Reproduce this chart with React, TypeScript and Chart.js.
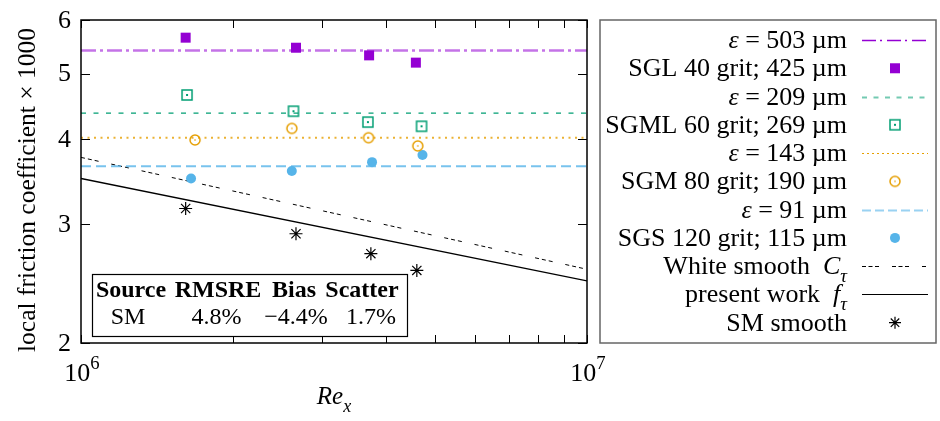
import React, { useEffect, useRef } from "react";
import { Chart, registerables } from "chart.js";
Chart.register(...registerables);

const FONT = '"Liberation Serif", "Times New Roman", serif';

// ---- axes ----
const xRange = [1e6, 1e7];
const yRange = [2, 6];
const yTicks = [2, 3, 4, 5, 6];
const xMajorTicks = [1e6, 1e7];
const xMinorTicks = [2e6, 3e6, 4e6, 5e6, 6e6, 7e6, 8e6, 9e6];
const xTickExponents = ["6", "7"];

// ---- data ----
// horizontal roughness levels: eps = 503, 209, 143, 91 um
const roughnessLevels = [5.41, 4.37, 4.02, 3.65];

const sglRe = [1.61e6, 2.66e6, 3.71e6, 4.59e6];
const sglCf = [5.65, 5.46, 5.32, 5.19];

const sgmlRe = [1.62e6, 2.63e6, 3.69e6, 4.71e6];
const sgmlCf = [4.65, 4.4, 4.24, 4.18];

const sgmRe = [1.68e6, 2.61e6, 3.7e6, 4.63e6];
const sgmCf = [3.99, 4.15, 4.02, 3.91];

const sgsRe = [1.65e6, 2.61e6, 3.76e6, 4.73e6];
const sgsCf = [3.5, 3.59, 3.7, 3.79];

const whiteRe = [1e6, 1e7];
const whiteCf = [3.76, 2.57];

const presentRe = [1e6, 1e7];
const presentCf = [3.5, 2.47];

const smRe = [1.61e6, 2.66e6, 3.74e6, 4.61e6];
const smCf = [3.16, 2.9, 2.71, 2.56];

const legendLabels = [
  "$ε$ = 503 µm",
  "SGL 40 grit; 425 µm",
  "$ε$ = 209 µm",
  "SGML 60 grit; 269 µm",
  "$ε$ = 143 µm",
  "SGM 80 grit; 190 µm",
  "$ε$ = 91 µm",
  "SGS 120 grit; 115 µm",
  "White smooth  $C$_τ",
  "present work  $f$_τ",
  "SM smooth",
];

const tableHeader = ["Source", "RMSRE", "Bias", "Scatter"];
const tableRow = ["SM", "4.8%", "−4.4%", "1.7%"];

const yTitle = "local friction coefficient × 1000";

// ---- styles ----
const PURPLE = "#9400D3";
const GREEN = "#009E73";
const ORANGE = "#E69F00";
const BLUE = "#56B4E9";

function makeMarker(kind: string, color: string) {
  const c = document.createElement("canvas");
  c.width = 14;
  c.height = 14;
  const g = c.getContext("2d")!;
  g.strokeStyle = color;
  g.fillStyle = color;
  g.lineWidth = 1.5;
  if (kind === "sq") {
    g.strokeRect(2, 2, 10, 10);
    g.fillRect(6, 6, 2, 2);
  } else {
    g.beginPath();
    g.arc(7, 7, 5, 0, Math.PI * 2);
    g.stroke();
    g.fillRect(6.3, 6.3, 1.4, 1.4);
  }
  return c;
}

const zip = (xs: number[], ys: number[]) => xs.map((x, i) => ({ x, y: ys[i] }));
const hline = (v: number) => [
  { x: xRange[0], y: v },
  { x: xRange[1], y: v },
];

type Seg = { t: string; italic?: boolean; bold?: boolean; sub?: boolean; sup?: boolean };

function parseLabel(s: string): Seg[] {
  const segs: Seg[] = [];
  let buf = "";
  let i = 0;
  const flush = () => {
    if (buf) segs.push({ t: buf });
    buf = "";
  };
  while (i < s.length) {
    const c = s[i];
    if (c === "$") {
      flush();
      const j = s.indexOf("$", i + 1);
      segs.push({ t: s.slice(i + 1, j), italic: true });
      i = j + 1;
    } else if (c === "_") {
      flush();
      segs.push({ t: s[i + 1], italic: true, sub: true });
      i += 2;
    } else {
      buf += c;
      i++;
    }
  }
  flush();
  return segs;
}

function drawRich(
  ctx: CanvasRenderingContext2D,
  segs: Seg[],
  x: number,
  y: number,
  align: "left" | "right" | "center",
  size: number
) {
  const parts = segs.map((s) => {
    const fs = s.sub || s.sup ? size * 0.72 : size;
    const font = `${s.italic ? "italic " : ""}${s.bold ? "bold " : ""}${fs}px ${FONT}`;
    ctx.font = font;
    return { ...s, font, w: ctx.measureText(s.t).width, dy: s.sub ? size * 0.3 : s.sup ? -size * 0.45 : 0 };
  });
  const total = parts.reduce((a, p) => a + p.w, 0);
  let cx = align === "right" ? x - total : align === "center" ? x - total / 2 : x;
  ctx.textAlign = "left";
  ctx.textBaseline = "alphabetic";
  parts.forEach((p) => {
    ctx.font = p.font;
    ctx.fillText(p.t, cx, y + p.dy);
    cx += p.w;
  });
}

type LegendStyle =
  | { kind: "line"; color: string; width: number; dash: number[] }
  | { kind: "marker"; draw: (ctx: CanvasRenderingContext2D, x: number, y: number) => void };

const legendStyles: LegendStyle[] = [
  { kind: "line", color: PURPLE, width: 1.3, dash: [14, 4, 2, 5] },
  {
    kind: "marker",
    draw: (c, x, y) => {
      c.fillStyle = PURPLE;
      c.fillRect(x - 5, y - 5, 10, 10);
    },
  },
  { kind: "line", color: "rgba(0,158,115,0.55)", width: 2, dash: [5, 6.5] },
  { kind: "marker", draw: (c, x, y) => c.drawImage(makeMarker("sq", GREEN), x - 7, y - 7) },
  { kind: "line", color: ORANGE, width: 1, dash: [2, 3] },
  { kind: "marker", draw: (c, x, y) => c.drawImage(makeMarker("ci", ORANGE), x - 7, y - 7) },
  { kind: "line", color: "rgba(86,180,233,0.6)", width: 2, dash: [9, 4] },
  {
    kind: "marker",
    draw: (c, x, y) => {
      c.fillStyle = BLUE;
      c.beginPath();
      c.arc(x, y, 5, 0, Math.PI * 2);
      c.fill();
    },
  },
  { kind: "line", color: "#000", width: 1, dash: [4, 2.5, 4, 2.5, 4, 13] },
  { kind: "line", color: "#000", width: 1.2, dash: [] },
  {
    kind: "marker",
    draw: (c, x, y) => {
      c.strokeStyle = "#000";
      c.lineWidth = 1.2;
      c.beginPath();
      const r = 6;
      c.moveTo(x - r, y);
      c.lineTo(x + r, y);
      c.moveTo(x, y - r);
      c.lineTo(x, y + r);
      const d = r * Math.SQRT1_2;
      c.moveTo(x - d, y - d);
      c.lineTo(x + d, y + d);
      c.moveTo(x - d, y + d);
      c.lineTo(x + d, y - d);
      c.stroke();
    },
  },
];

const decorPlugin = {
  id: "decor",
  afterDraw(chart: any) {
    const ctx: CanvasRenderingContext2D = chart.ctx;
    const a = chart.chartArea;
    const xs = chart.scales.x;
    const ys = chart.scales.y;
    const line = (x1: number, y1: number, x2: number, y2: number) => {
      ctx.beginPath();
      ctx.moveTo(x1, y1);
      ctx.lineTo(x2, y2);
      ctx.stroke();
    };
    ctx.save();
    ctx.setLineDash([]);
    ctx.strokeStyle = "#000";
    ctx.fillStyle = "#000";

    // ticks
    ctx.lineWidth = 1;
    yTicks.forEach((v) => {
      const y = Math.round(ys.getPixelForValue(v)) + 0.5;
      line(a.left, y, a.left + 9, y);
      line(a.right, y, a.right - 9, y);
    });
    [...xMajorTicks, ...xMinorTicks].forEach((v) => {
      const x = Math.round(xs.getPixelForValue(v)) + 0.5;
      line(x, a.bottom, x, a.bottom - 8);
      line(x, a.top, x, a.top + 8);
    });

    // frame
    ctx.lineWidth = 1.5;
    ctx.strokeRect(a.left, a.top, a.right - a.left, a.bottom - a.top);

    // y tick labels
    ctx.font = `26px ${FONT}`;
    ctx.textAlign = "right";
    ctx.textBaseline = "middle";
    yTicks.forEach((v) => {
      ctx.fillText(String(v), 71, ys.getPixelForValue(v) + 1);
    });

    // x tick labels
    xMajorTicks.forEach((v, i) => {
      drawRich(ctx, [{ t: "10" }, { t: xTickExponents[i], sup: true }], xs.getPixelForValue(v) + 1, 381, "center", 26);
    });

    // axis titles
    drawRich(ctx, [{ t: "Re", italic: true }, { t: "x", italic: true, sub: true }], (a.left + a.right) / 2, 404, "center", 25);
    ctx.save();
    ctx.translate(35, 190);
    ctx.rotate(-Math.PI / 2);
    ctx.font = `25.5px ${FONT}`;
    ctx.textAlign = "center";
    ctx.textBaseline = "alphabetic";
    ctx.fillText(yTitle, 0, 0);
    ctx.restore();

    // table
    ctx.fillStyle = "#fff";
    ctx.fillRect(92, 274, 315, 62);
    ctx.strokeStyle = "#000";
    ctx.lineWidth = 1.2;
    ctx.strokeRect(92.5, 274.5, 315, 62);
    ctx.fillStyle = "#000";
    const headCenters = [131, 218, 294, 362];
    const rowCenters = [128, 216.5, 296, 371];
    tableHeader.forEach((t, i) => drawRich(ctx, [{ t, bold: true }], headCenters[i], 297, "center", 24));
    tableRow.forEach((t, i) => drawRich(ctx, [{ t }], rowCenters[i], 324, "center", 24));

    // legend box
    ctx.strokeStyle = "#666";
    ctx.lineWidth = 1.5;
    ctx.strokeRect(600, 20, 336, 323);
    legendLabels.forEach((lab, i) => {
      const cy = 40 + i * 28.27;
      ctx.fillStyle = "#000";
      drawRich(ctx, parseLabel(lab), 847, cy + 8, "right", 26);
      const st = legendStyles[i];
      if (st.kind === "line") {
        ctx.strokeStyle = st.color;
        ctx.lineWidth = st.width;
        ctx.setLineDash(st.dash);
        line(862, Math.round(cy) + 0.5, 928, Math.round(cy) + 0.5);
        ctx.setLineDash([]);
      } else {
        st.draw(ctx, 895, cy);
      }
    });
    ctx.restore();
  },
};

export default function App() {
  const ref = useRef<HTMLCanvasElement>(null);
  useEffect(() => {
    const sqMarker = makeMarker("sq", GREEN);
    const ciMarker = makeMarker("ci", ORANGE);
    const lineDs = (data: any[], color: string, width: number, dash: number[]) => ({
      data,
      showLine: true,
      borderColor: color,
      borderWidth: width,
      borderDash: dash,
      pointRadius: 0,
      fill: false,
      order: 1,
    });
    const ptDs = (data: any[], style: any, radius: number, color: string, fillColor: string, bw = 1) => ({
      data,
      showLine: false,
      pointStyle: style,
      pointRadius: radius,
      pointBorderColor: color,
      pointBackgroundColor: fillColor,
      pointBorderWidth: bw,
      order: 0,
    });
    const chart = new Chart(ref.current!, {
      type: "scatter",
      data: {
        datasets: [
          lineDs(hline(roughnessLevels[0]), "rgba(148,0,211,0.55)", 2.5, [15, 4, 3, 4]),
          ptDs(zip(sglRe, sglCf), "rect", 7.07, PURPLE, PURPLE, 0),
          lineDs(hline(roughnessLevels[1]), GREEN, 1.3, [5, 7.5]),
          ptDs(zip(sgmlRe, sgmlCf), sqMarker, 6, GREEN, GREEN),
          lineDs(hline(roughnessLevels[2]), "rgba(230,159,0,0.8)", 2, [2, 4.5]),
          ptDs(zip(sgmRe, sgmCf), ciMarker, 6, ORANGE, ORANGE),
          lineDs(hline(roughnessLevels[3]), "rgba(86,180,233,0.8)", 2, [10, 5]),
          ptDs(zip(sgsRe, sgsCf), "circle", 5, BLUE, BLUE, 0),
          lineDs(zip(whiteRe, whiteCf), "#000", 1, [4, 3, 4, 3, 4, 13]),
          lineDs(zip(presentRe, presentCf), "#000", 1.3, []),
          ptDs(zip(smRe, smCf), "star", 6.5, "#000", "#000", 1.2),
        ],
      },
      options: {
        responsive: false,
        animation: false,
        devicePixelRatio: 1,
        layout: { padding: { left: 81, right: 353, top: 20, bottom: 78 } },
        plugins: { legend: { display: false }, tooltip: { enabled: false } },
        scales: {
          x: { type: "logarithmic", min: xRange[0], max: xRange[1], display: false },
          y: { type: "logarithmic", min: yRange[0], max: yRange[1], display: false },
        },
      },
      plugins: [decorPlugin],
    });
    return () => chart.destroy();
  }, []);
  return (
    <div style={{ position: "absolute", left: 0, top: 0, width: 940, height: 421, background: "#fff" }}>
      <canvas ref={ref} width={940} height={421} style={{ width: 940, height: 421 }} />
    </div>
  );
}
